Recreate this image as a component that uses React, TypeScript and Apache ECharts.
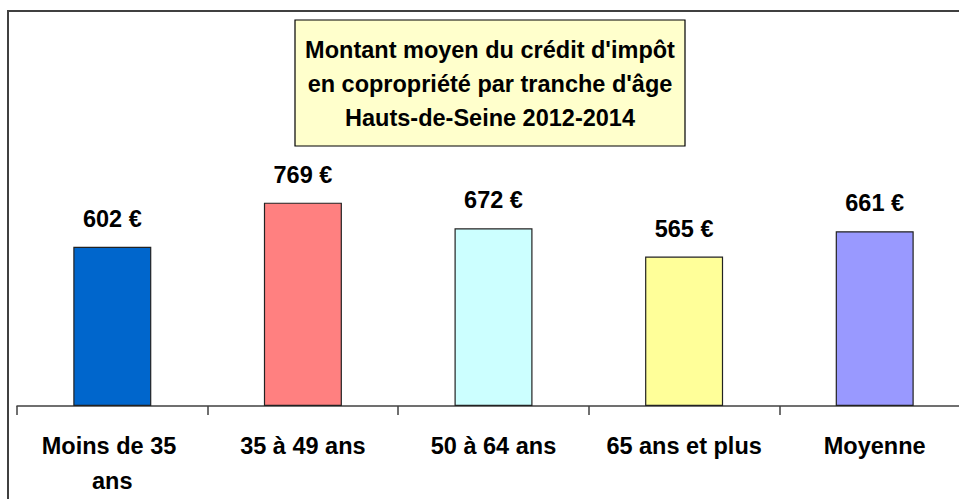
import React, { useEffect, useRef } from "react";
import * as echarts from "echarts";

const categories = ["Moins de 35 ans", "35 à 49 ans", "50 à 64 ans", "65 ans et plus", "Moyenne"];
const values = [602, 769, 672, 565, 661];
const barColors = ["#0066CC", "#FF8080", "#CCFFFF", "#FFFF99", "#9999FF"];
const titleLines = [
  "Montant moyen du crédit d'impôt",
  "en copropriété par tranche d'âge",
  "Hauts-de-Seine 2012-2014",
];

const FONT = "'Liberation Sans', Arial, sans-serif";

export default function App() {
  const ref = useRef<HTMLDivElement>(null);
  useEffect(() => {
    if (!ref.current) return;
    const chart = echarts.init(ref.current, null, { renderer: "svg" });
    chart.setOption({
      animation: false,
      backgroundColor: "#FFFFFF",
      grid: {
        left: 17,
        top: 168,
        width: 953,
        height: 238,
        containLabel: false,
        outerBoundsMode: "none",
      },
      xAxis: {
        type: "category",
        data: categories,
        axisLine: { show: true, lineStyle: { color: "#404040", width: 1.5 } },
        axisTick: { show: true, length: 9, lineStyle: { color: "#404040", width: 1.5 } },
        axisLabel: {
          interval: 0,
          margin: 22,
          color: "#000000",
          fontFamily: FONT,
          fontWeight: "bold",
          fontSize: 23.5,
          lineHeight: 35,
          width: 172,
          overflow: "break",
        },
      },
      yAxis: {
        type: "value",
        min: 0,
        max: 900,
        show: false,
        splitLine: { show: false },
      },
      series: [
        {
          type: "bar",
          barWidth: 78,
          data: values.map((v, i) => ({
            value: v,
            itemStyle: { color: barColors[i], borderColor: "#222222", borderWidth: 1.2 },
          })),
          label: {
            show: true,
            position: "top",
            distance: 16,
            formatter: (p: any) => `${p.value} €`,
            color: "#000000",
            fontFamily: FONT,
            fontWeight: "bold",
            fontSize: 23.5,
          },
        },
      ],
      graphic: [
        {
          type: "rect",
          shape: { x: 8, y: 11, width: 980, height: 520 },
          style: { fill: "none", stroke: "#404040", lineWidth: 2 },
          silent: true,
        },
        {
          type: "rect",
          shape: { x: 295, y: 20, width: 390, height: 126 },
          style: { fill: "#FFFFCC", stroke: "#000000", lineWidth: 1.2 },
          silent: true,
        },
        {
          type: "text",
          x: 490,
          y: 84,
          style: {
            text: titleLines.join("\n"),
            fill: "#000000",
            font: `bold 23.5px ${FONT}`,
            lineHeight: 34,
            align: "center",
            verticalAlign: "middle",
          },
          silent: true,
        },
      ],
    });
    return () => chart.dispose();
  }, []);
  return (
    <div
      ref={ref}
      style={{ position: "fixed", left: 0, top: 0, width: 959, height: 499 }}
    />
  );
}
